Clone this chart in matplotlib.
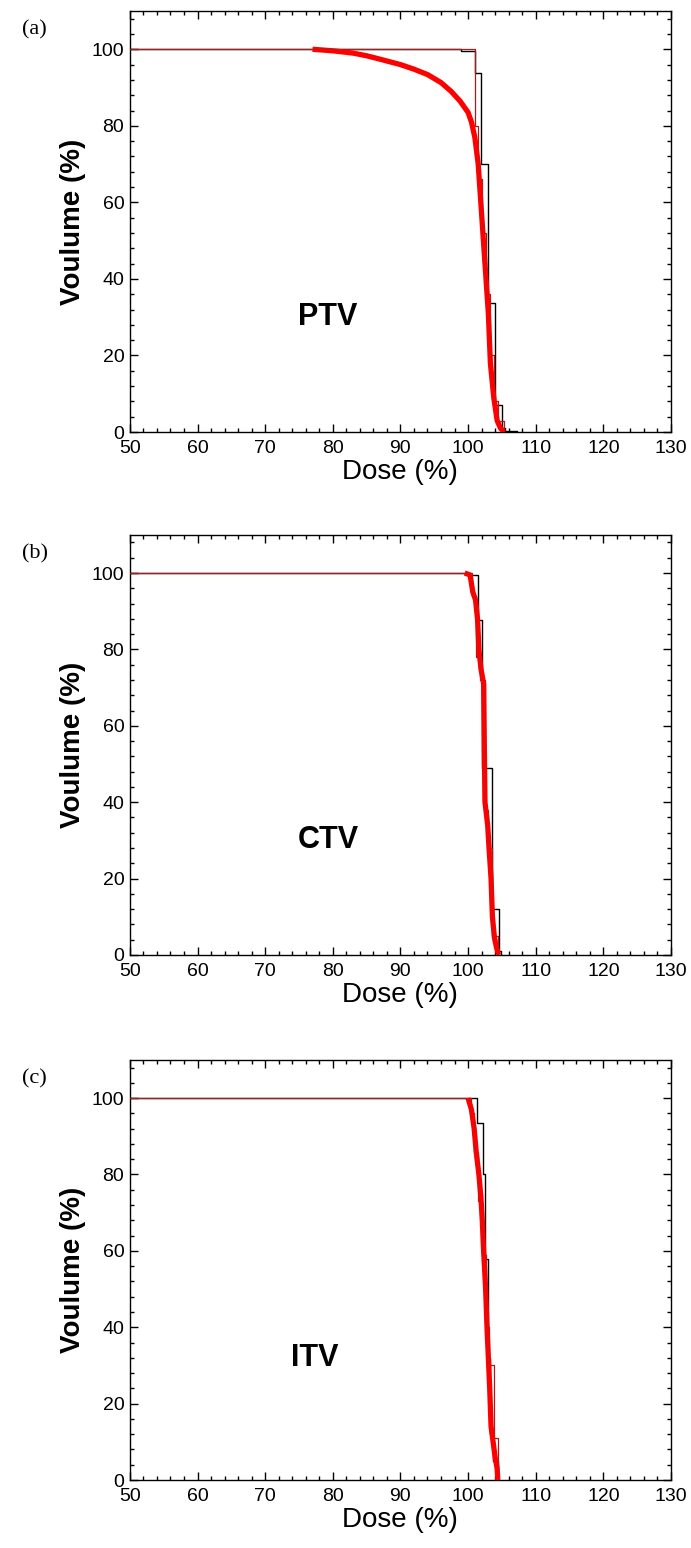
import matplotlib
matplotlib.use('Agg')
import matplotlib.pyplot as plt
from matplotlib.ticker import MultipleLocator

# ---- data (dose %, volume %) ----
# panel (a) PTV
black_a_dose = [50, 99.0, 101.0, 101.9, 103.0, 104.0, 105.0, 105.5, 107.2]
black_a_vol = [100, 99.5, 93.8, 70, 33.6, 7, 1, 0.3, 0]
red_a_dose = [77, 80, 83, 85, 87, 90, 92, 94, 96, 97.5, 98.8, 100.0, 100.5, 101.0,
              101.5, 102.0, 102.5, 103.0, 103.3, 103.8, 104.3, 104.8, 105.3]
red_a_vol = [100, 99.6, 99.0, 98.3, 97.4, 96.0, 94.8, 93.4, 91.3, 89.0, 86.5, 83.5,
             81, 77, 70, 57, 44, 31, 18, 9, 3, 1, 0]
edge_a_dose = [50, 101.0, 101.4, 102.0, 102.6, 103.2, 103.8, 104.4, 105.3]
edge_a_vol = [100, 80, 66, 52, 36, 20, 8, 3, 0]

# panel (b) CTV
black_b_dose = [50, 99.8, 101.4, 102.1, 103.5, 104.5, 104.9]
black_b_vol = [100, 99.6, 87.7, 49, 12, 1, 0]
red_b_dose = [99.5, 100.3, 100.7, 101.1, 101.4, 101.6, 101.9, 102.3, 102.4, 102.5,
              102.9, 103.1, 103.4, 103.6, 103.9, 104.2, 104.5]
red_b_vol = [100, 99.5, 95, 93, 88, 80, 75, 71, 55, 40, 34, 28, 20, 10, 4.5, 2, 0]
edge_b_dose = [50, 100.6, 101.1, 101.8, 102.5, 103.0, 103.6, 104.4]
edge_b_vol = [100, 94, 78, 72, 38, 28, 5, 0]

# panel (c) ITV
black_c_dose = [50, 101.3, 102.2, 102.5, 102.9, 103.3, 103.7, 104.4]
black_c_vol = [100, 93.4, 80, 58, 32, 12, 5, 0]
red_c_dose = [100.0, 100.5, 100.9, 101.2, 101.6, 101.9, 102.1, 102.3, 102.6, 102.8,
              103.0, 103.2, 103.4, 103.7, 104.0, 104.3, 104.4]
red_c_vol = [100, 97, 92, 86, 80, 74, 68, 60, 50, 40, 32, 24, 14, 10, 6, 3, 0]
edge_c_dose = [50, 100.4, 100.9, 101.4, 102.0, 102.6, 103.1, 103.9, 104.4]
edge_c_vol = [100, 96, 86, 73, 59, 40, 30, 11, 0]

panels = [
    ('(a)', 'PTV', black_a_dose, black_a_vol, red_a_dose, red_a_vol, edge_a_dose, edge_a_vol),
    ('(b)', 'CTV', black_b_dose, black_b_vol, red_b_dose, red_b_vol, edge_b_dose, edge_b_vol),
    ('(c)', 'ITV', black_c_dose, black_c_vol, red_c_dose, red_c_vol, edge_c_dose, edge_c_vol),
]

font = ['Liberation Sans', 'DejaVu Sans']

fig = plt.figure(figsize=(6.91, 15.48), dpi=100)

# axes boxes in figure fractions (left, bottom, width, height)
boxes = [
    [0.188, 0.7209, 0.783, 0.272],
    [0.188, 0.3831, 0.783, 0.2714],
    [0.188, 0.0439, 0.783, 0.2714],
]
tag_y = [0.9806, 0.642, 0.303]
name_pos = [(79.3, 30), (79.3, 30), (77.4, 32)]

for i, (tag, name, bd, bv, rd, rv, ed, ev) in enumerate(panels):
    ax = fig.add_axes(boxes[i])

    ax.step(bd, bv, where='post', color='black', lw=1.0, zorder=2)
    ax.step(ed, ev, where='post', color='#9a1414', lw=0.9, zorder=3)
    ax.plot(rd, rv, color='#ff0000', lw=3.8, solid_capstyle='butt', zorder=4)
    ax.step(ed, ev, where='post', color='#b02020', lw=0.6, alpha=0.8, zorder=5)

    ax.set_xlim(50, 130)
    ax.set_ylim(0, 110)
    ax.xaxis.set_major_locator(MultipleLocator(10))
    ax.xaxis.set_minor_locator(MultipleLocator(2))
    ax.yaxis.set_major_locator(MultipleLocator(20))
    ax.yaxis.set_minor_locator(MultipleLocator(4))
    ax.tick_params(which='both', direction='in', top=True, right=True, width=1.0)
    ax.tick_params(which='major', length=6)
    ax.tick_params(which='minor', length=3)
    ax.tick_params(axis='x', pad=6)
    ax.tick_params(axis='y', pad=4)
    for lab in ax.get_xticklabels() + ax.get_yticklabels():
        lab.set_family(font)
        lab.set_fontsize(14)
    for sp in ax.spines.values():
        sp.set_linewidth(1.0)

    ax.set_xlabel('Dose (%)', family=font, fontsize=20, labelpad=1)
    ax.set_ylabel('Voulume (%)', family=font, fontsize=20, fontweight='bold', labelpad=4)
    ax.text(name_pos[i][0], name_pos[i][1], name, family=font, fontsize=22,
            fontweight='bold', ha='center', va='center')

    fig.text(0.032, tag_y[i], tag, family=['Liberation Serif', 'DejaVu Serif'],
             fontsize=16, ha='left', va='center')

fig.savefig('out.png', dpi=100)
